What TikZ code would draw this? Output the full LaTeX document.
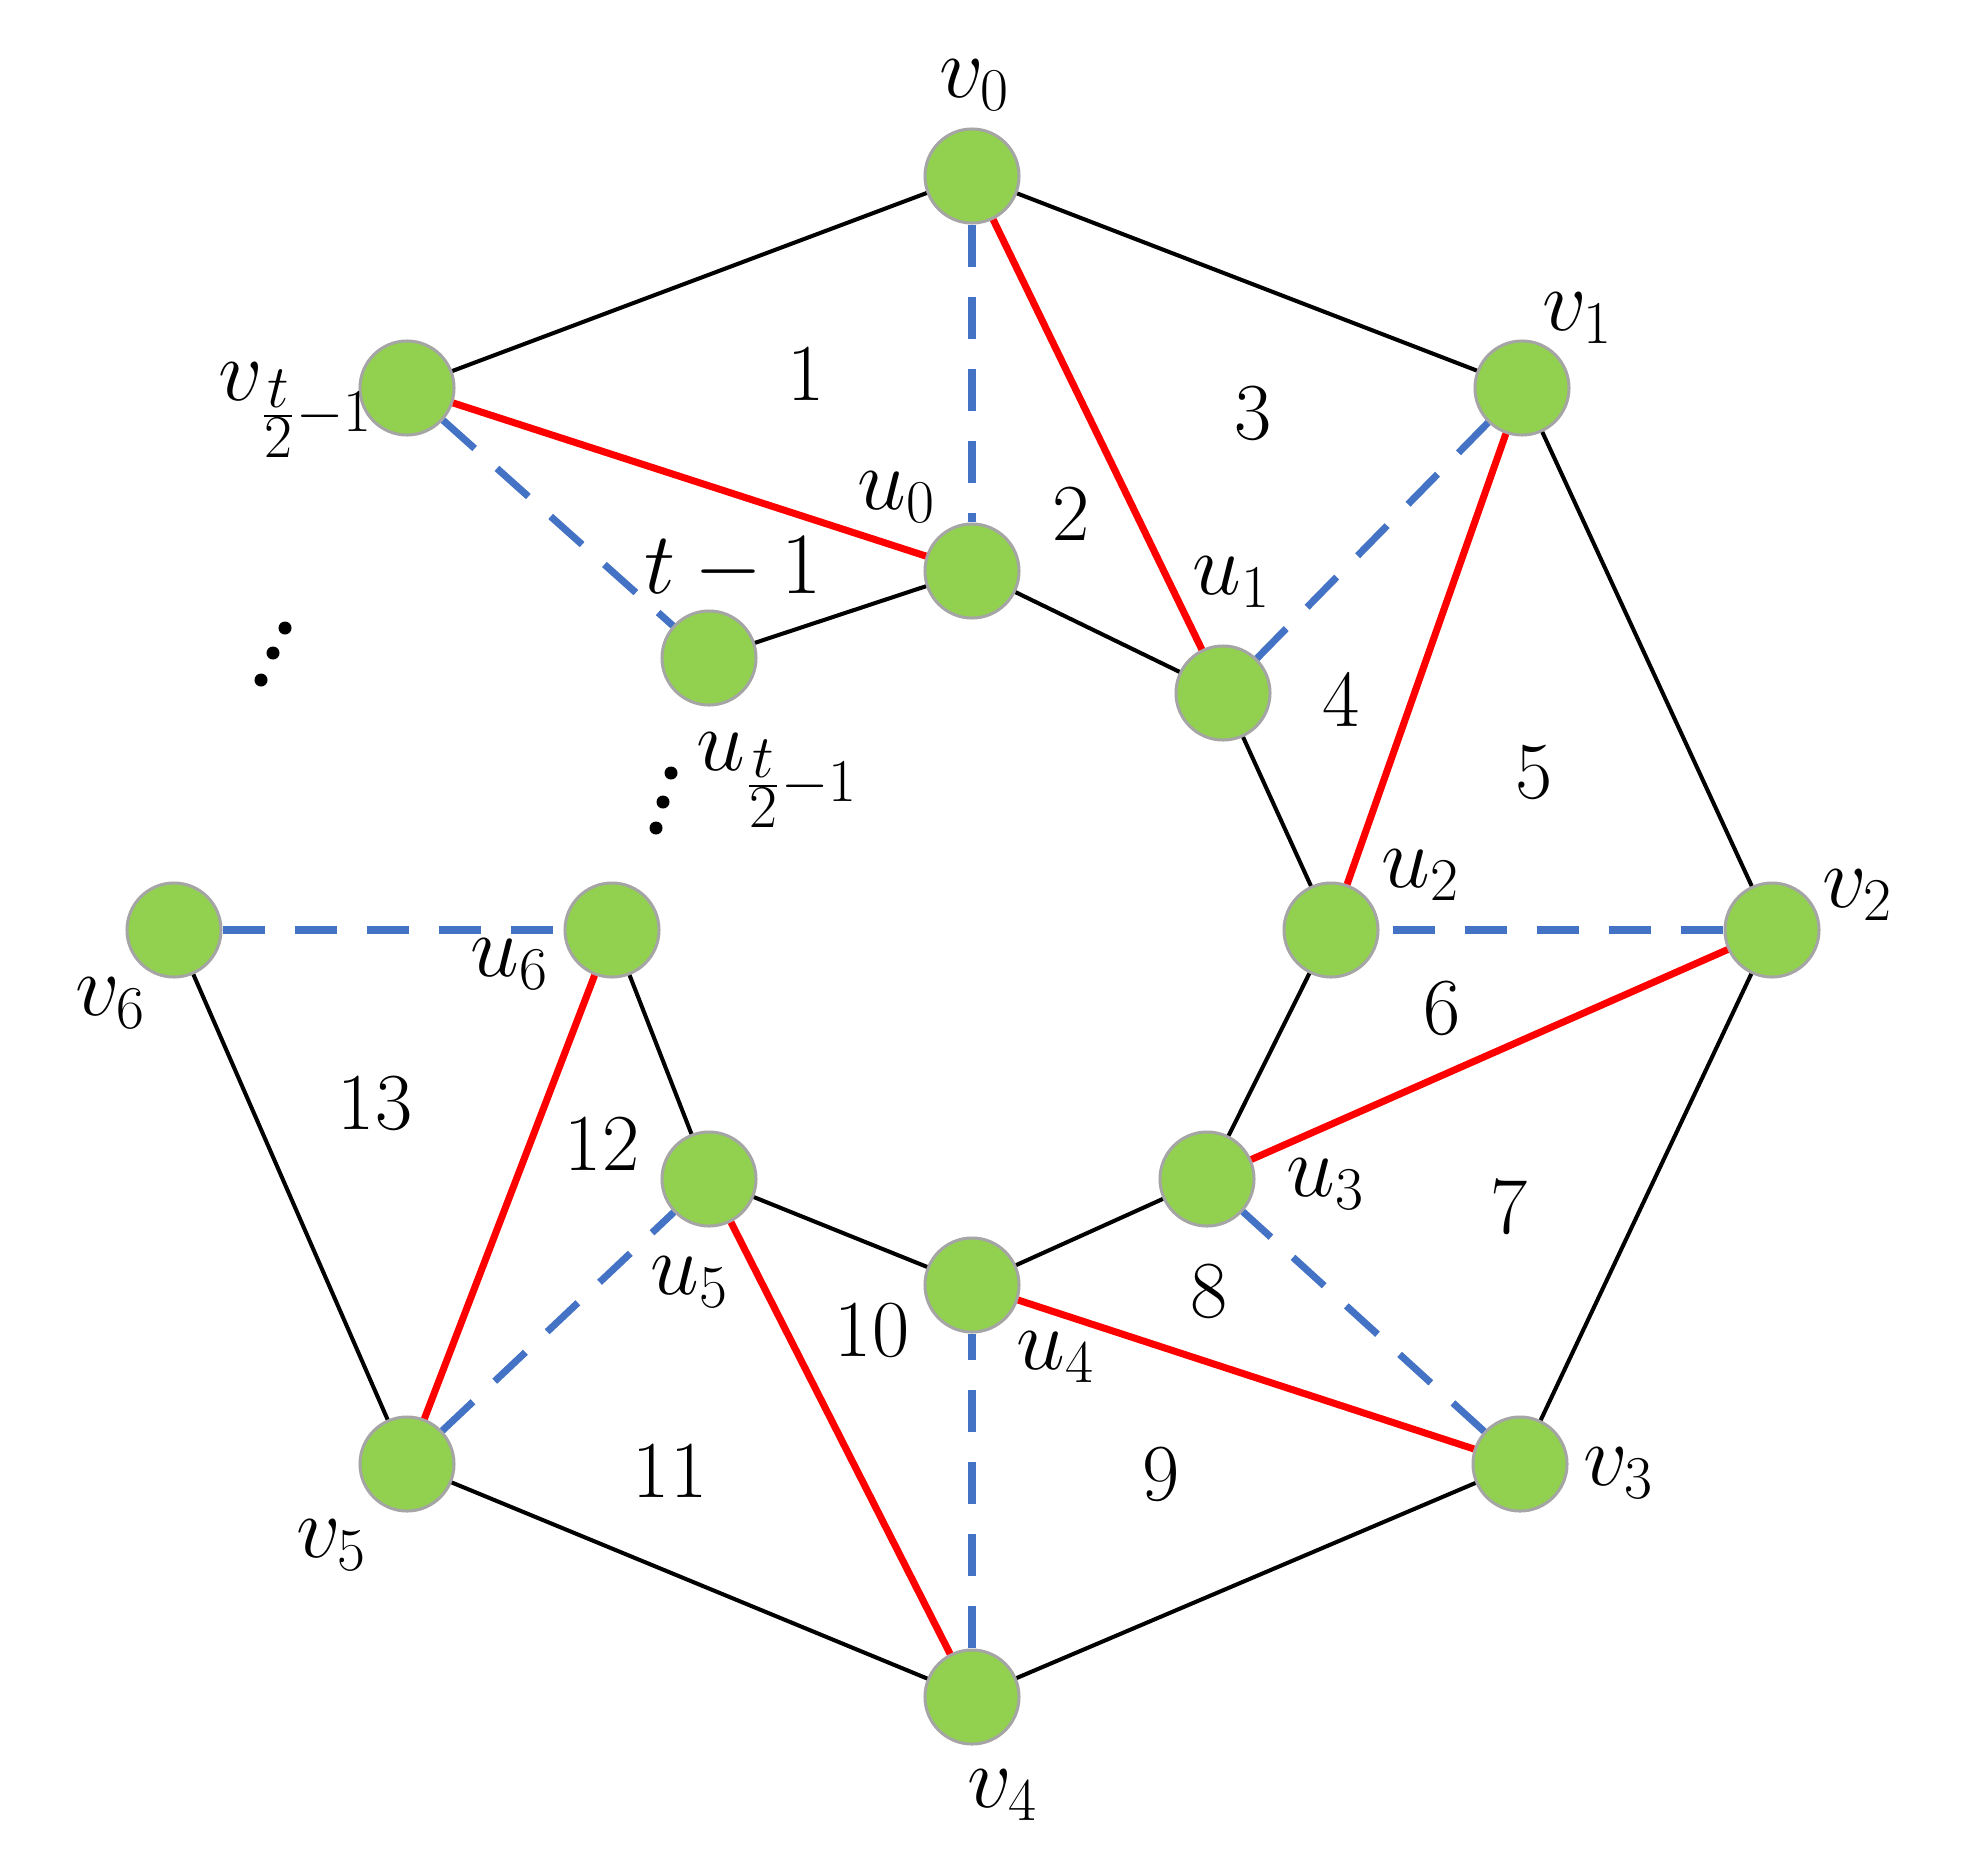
\documentclass[tikz,border=0pt]{standalone}
\usetikzlibrary{calc}
\definecolor{ngreen}{HTML}{92D050}
\definecolor{nborder}{HTML}{A5A5A5}
\definecolor{eblue}{HTML}{4472C4}
\definecolor{ered}{HTML}{FF0000}
\begin{document}
\begin{tikzpicture}[x=0.01cm,y=-0.01cm,
  vtx/.style={circle,fill=ngreen,draw=nborder,line width=0.85pt,minimum size=0.94cm,inner sep=0pt},
  blk/.style={line width=1.15pt,black},
  redge/.style={line width=2pt,ered},
  bedge/.style={line width=2pt,eblue,dash pattern=on 12pt off 8.5pt},
  lbl/.style={inner sep=0pt,font=\fontsize{24pt}{28pt}\selectfont},
  num/.style={inner sep=0pt,font=\fontsize{23pt}{27pt}\selectfont},
  dotm/.style={circle,fill=black,inner sep=0pt,minimum size=0.13cm}]
\useasboundingbox (0,0) rectangle (1975,1851);
% vertices
\node[vtx] (v0) at (972,176) {};
\node[vtx] (v1) at (1522,388) {};
\node[vtx] (v2) at (1772,930) {};
\node[vtx] (v3) at (1520,1464) {};
\node[vtx] (v4) at (972,1697) {};
\node[vtx] (v5) at (407,1464) {};
\node[vtx] (v6) at (174,930) {};
\node[vtx] (vt) at (407,388) {};
\node[vtx] (u0) at (972,571) {};
\node[vtx] (u1) at (1223,693) {};
\node[vtx] (u2) at (1331,930) {};
\node[vtx] (u3) at (1207,1179) {};
\node[vtx] (u4) at (972,1285) {};
\node[vtx] (u5) at (709,1179) {};
\node[vtx] (u6) at (612,930) {};
\node[vtx] (ut) at (709,658) {};
% edges
\draw[blk] (v0) -- (vt);
\draw[blk] (v0) -- (v1);
\draw[blk] (v1) -- (v2);
\draw[blk] (v2) -- (v3);
\draw[blk] (v3) -- (v4);
\draw[blk] (v4) -- (v5);
\draw[blk] (v5) -- (v6);
\draw[blk] (u0) -- (ut);
\draw[blk] (u0) -- (u1);
\draw[blk] (u1) -- (u2);
\draw[blk] (u2) -- (u3);
\draw[blk] (u3) -- (u4);
\draw[blk] (u4) -- (u5);
\draw[blk] (u5) -- (u6);
\draw[redge] (vt) -- (u0);
\draw[redge] (v0) -- (u1);
\draw[redge] (v1) -- (u2);
\draw[redge] (v2) -- (u3);
\draw[redge] (u4) -- (v3);
\draw[redge] (u5) -- (v4);
\draw[redge] (u6) -- (v5);
\draw[bedge] (v0) -- (u0);
\draw[bedge] (v1) -- (u1);
\draw[bedge] (v2) -- (u2);
\draw[bedge] (v3) -- (u3);
\draw[bedge] (v4) -- (u4);
\draw[bedge] (v5) -- (u5);
\draw[bedge] (v6) -- (u6);
\draw[bedge] (vt) -- (ut);
% vertex labels
\node[lbl] (lv0) at (975,85) {$v_0$};
\node[lbl] (lv1) at (1578,318) {$v_1$};
\node[lbl] (lv2) at (1858,895) {$v_2$};
\node[lbl] (lv3) at (1619,1473) {$v_3$};
\node[lbl] (lv4) at (1003,1795) {$v_4$};
\node[lbl] (lv5) at (332,1545) {$v_5$};
\node[lbl] (lv6) at (111,1003) {$v_6$};
\node[lbl] (lvt) at (296,410) {$v_{\frac{\scriptstyle t}{\scriptstyle 2}-1}$};
\node[lbl] (lu0) at (897,497) {$u_0$};
\node[lbl] (lu1) at (1232,582) {$u_1$};
\node[lbl] (lu2) at (1421,875) {$u_2$};
\node[lbl] (lu3) at (1326,1184) {$u_3$};
\node[lbl] (lu4) at (1056,1357) {$u_4$};
\node[lbl] (lu5) at (690,1282) {$u_5$};
\node[lbl] (lu6) at (510,964) {$u_6$};
\node[lbl] (lut) at (777,780) {$u_{\frac{\scriptstyle t}{\scriptstyle 2}-1}$};
\node[lbl] (ltm) at (733,569) {$t-1$};
% face numbers
\node[num] (f1) at (806,374) {1};
\node[num] (f2) at (1071,514) {2};
\node[num] (f3) at (1253,413) {3};
\node[num] (f4) at (1341,699) {4};
\node[num] (f5) at (1534,772) {5};
\node[num] (f6) at (1442,1008) {6};
\node[num] (f7) at (1509,1207) {7};
\node[num] (f8) at (1209,1291) {8};
\node[num] (f9) at (1161,1474) {9};
\node[num] (f10) at (872,1330) {10};
\node[num] (f11) at (670,1471) {11};
\node[num] (f12) at (602,1144) {12};
\node[num] (f13) at (375,1103) {13};
% dots
\node[dotm] (d1) at (285,628) {};
\node[dotm] (d2) at (273,653) {};
\node[dotm] (d3) at (261,680) {};
\node[dotm] (d4) at (671,773) {};
\node[dotm] (d5) at (663,802) {};
\node[dotm] (d6) at (656,828) {};
\end{tikzpicture}
\end{document}
